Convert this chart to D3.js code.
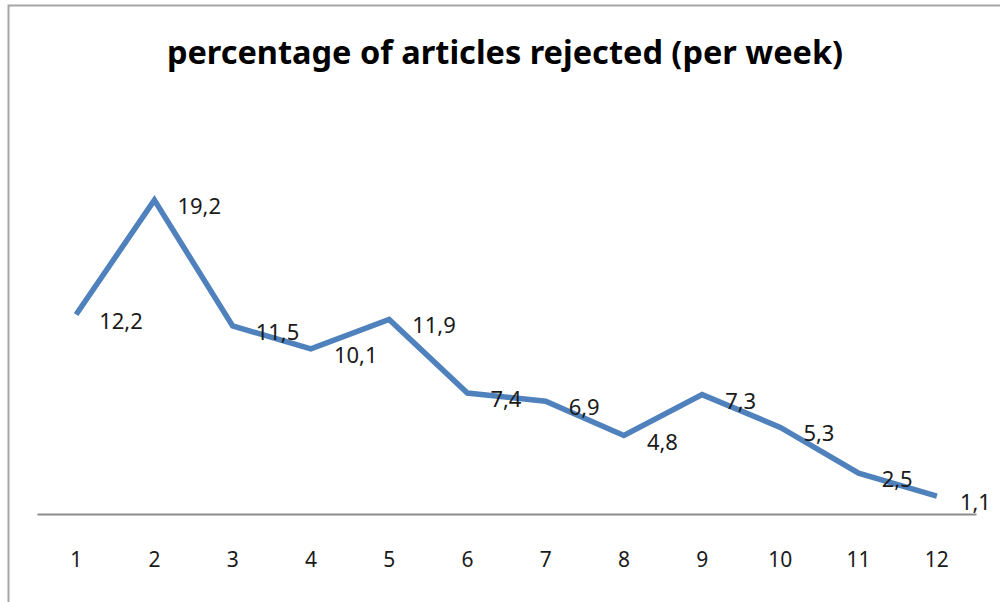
<!DOCTYPE html>
<meta charset="utf-8">
<script src="https://d3js.org/d3.v7.js"></script>
<style>
  body { margin: 0; background: #fff; }
</style>
<div id="chart"></div>
<script>

// weeks and rejected percentages
const weeks = ["1", "2", "3", "4", "5", "6", "7", "8", "9", "10", "11", "12"];
const rejected = [12.2, 19.2, 11.5, 10.1, 11.9, 7.4, 6.9, 4.8, 7.3, 5.3, 2.5, 1.1];
const title = "percentage of articles rejected (per week)";

const width = 1000, height = 602;
const font = "'Noto Sans', 'Open Sans', sans-serif";

const svg = d3.select("#chart")
  .append("svg")
    .attr("width", width)
    .attr("height", height);

// chart frame (runs off the right and bottom edge)
svg.append("rect")
  .attr("x", 8.5)
  .attr("y", 5.5)
  .attr("width", 1010)
  .attr("height", 620)
  .style("fill", "#fff")
  .style("stroke", "#a6a6a6")
  .style("stroke-width", 2);

svg.append("text")
  .attr("x", 505)
  .attr("y", 64)
  .attr("text-anchor", "middle")
  .style("font-family", font)
  .style("font-weight", "bold")
  .style("font-size", "32.5px")
  .style("fill", "#000")
  .text(title);

const x = d3.scaleBand()
  .domain(weeks)
  .range([37, 976]);

const y = d3.scaleLinear()
  .domain([0, 20])
  .range([514, 187]);

// x axis: plain line, no ticks
const xAxis = svg.append("g")
  .attr("transform", `translate(0, ${y(0)})`)
  .call(d3.axisBottom(x).tickSize(0).tickPadding(38));

xAxis.select(".domain")
  .style("stroke", "#8c8c8c")
  .style("stroke-width", 2);

xAxis.selectAll("text")
  .style("font-family", font)
  .style("font-size", "21px")
  .style("fill", "#1a1a1a");

const line = d3.line()
  .x((d, i) => x(weeks[i]) + x.bandwidth() / 2)
  .y(d => y(d));

svg.append("path")
  .datum(rejected)
  .attr("d", line)
  .style("fill", "none")
  .style("stroke", "#4f81bd")
  .style("stroke-width", 5.5)
  .style("stroke-linejoin", "miter");

// data labels, to the right of each point
svg.selectAll(".lbl")
  .data(rejected)
  .join("text")
    .attr("class", "lbl")
    .attr("x", (d, i) => x(weeks[i]) + x.bandwidth() / 2 + 23)
    .attr("y", d => y(d) + 14)
    .style("font-family", font)
    .style("font-size", "22px")
    .style("fill", "#1a1a1a")
    .text(d => String(d).replace(".", ","));

</script>
